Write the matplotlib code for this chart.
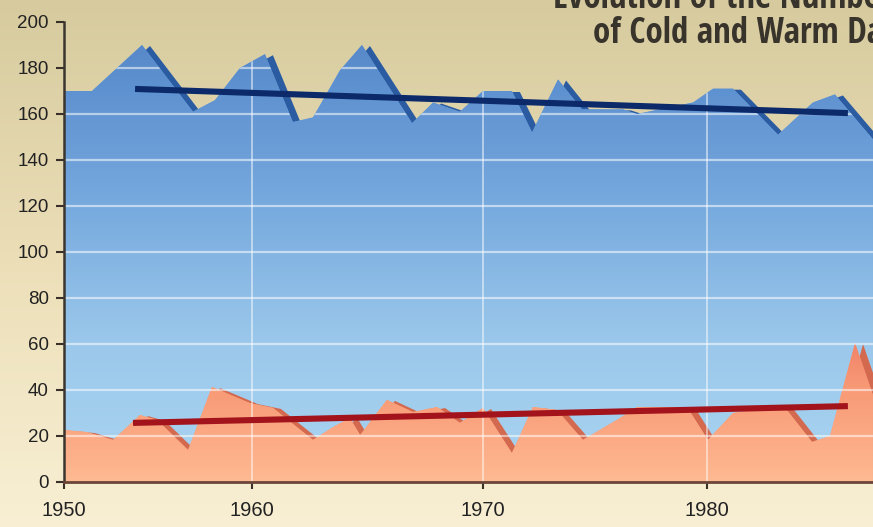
import numpy as np
import matplotlib
matplotlib.use("Agg")
import matplotlib.pyplot as plt
from matplotlib import transforms
from matplotlib import font_manager as fm
from matplotlib.colors import LinearSegmentedColormap

# ---------------- data ----------------
cold_years = [1950.00, 1951.49, 1954.15, 1956.86, 1958.03, 1959.36, 1960.56, 1961.77,
              1962.64, 1963.81, 1964.76, 1966.93, 1967.84, 1969.00, 1970.00, 1971.29,
              1972.19, 1973.35, 1974.42, 1976.25, 1976.88, 1979.38, 1980.27, 1981.16,
              1983.17, 1984.73, 1985.71, 1987.41]
cold_days = [170, 170, 190, 161, 166, 180, 186, 156.5,
             158.5, 179, 190, 156, 165, 161, 170, 170,
             152, 175, 162, 162, 160, 165, 171, 171,
             151, 165, 168.5, 149]

warm_years = [1950.00, 1951.22, 1952.61, 1954.04, 1954.95, 1956.60, 1957.87, 1959.89,
              1960.91, 1962.64, 1963.51, 1964.24, 1964.68, 1965.84, 1966.97, 1968.01,
              1969.00, 1970.00, 1971.29, 1972.23, 1973.30, 1974.46, 1975.98, 1976.88,
              1979.11, 1980.04, 1981.16, 1983.39, 1984.69, 1985.49, 1986.61, 1987.41]
warm_days = [22.6, 21.7, 18.3, 29.1, 27.0, 13.9, 41.3, 34.3,
             32.2, 18.3, 23.9, 27.8, 20.4, 35.7, 30.4, 32.6,
             25.7, 32.2, 12.6, 32.6, 31.3, 18.3, 27.0, 32.6,
             32.6, 18.3, 30.0, 33.5, 17.4, 20.0, 60.4, 37.8]

cold_trend_years = [1953.78, 1986.29]
cold_trend_days = [170.9, 160.4]
warm_trend_years = [1953.67, 1986.29]
warm_trend_days = [25.7, 33.0]

x_ticks = [1950, 1960, 1970, 1980]
y_ticks = list(range(0, 201, 20))
title_lines = ["Evolution of the Number", "of Cold and Warm Days"]

# ---------------- figure ----------------
W, H, DPI = 873, 527, 100
fig = plt.figure(figsize=(W / DPI, H / DPI), dpi=DPI)

# background gradient (beige)
bg = fig.add_axes([0, 0, 1, 1], zorder=-10)
bg.axis("off")
bg_cmap = LinearSegmentedColormap.from_list("bg", ["#f8efd4", "#ecdfb8", "#d6ca9e"])
bg.imshow(np.linspace(0, 1, 256).reshape(-1, 1), cmap=bg_cmap, aspect="auto",
          origin="lower", extent=[0, 1, 0, 1], interpolation="bicubic")

ax = fig.add_axes([64 / W, 1 - 482 / H, (W - 64) / W, (482 - 22) / H])
ax.patch.set_alpha(0)

# axis calibration of the reference (its decades are not equally spaced)
_knots_yr = np.array([1900., 1950., 1960., 1970., 1980., 2040.])
_knots_px = np.array([64 - 50 * 18.8, 64., 252., 483., 707., 707 + 60 * 22.4])


def fwd(x):
    return np.interp(np.asarray(x, dtype=float), _knots_yr, _knots_px)


def inv(p):
    return np.interp(np.asarray(p, dtype=float), _knots_px, _knots_yr)


ax.set_xscale("function", functions=(fwd, inv))

shadow_tr = ax.transData + transforms.ScaledTranslation(8 / DPI, -1 / DPI, fig.dpi_scale_trans)

grad = np.linspace(0, 1, 512).reshape(-1, 1)

# ---- cold days (blue) ----
ax.fill_between(cold_years, 0, cold_days, facecolor="#2b5ca2", edgecolor="none",
                transform=shadow_tr, zorder=1.0)
blue_poly = ax.fill_between(cold_years, 0, cold_days, facecolor="#6b9fd8",
                            edgecolor="none", zorder=1.05)
blue_path = blue_poly.get_paths()[0]
blue_cmap = LinearSegmentedColormap.from_list(
    "blue", [(0, "#aad4f1"), (0.3, "#9bc8eb"), (0.6, "#77aade"), (0.85, "#5f92d0"), (1, "#5485c7")])
im_b = ax.imshow(grad, cmap=blue_cmap, aspect="auto", origin="lower", extent=[0, 1, 0, 1],
                 transform=ax.transAxes, zorder=1.1, interpolation="bicubic")
im_b.set_clip_path(blue_path, ax.transData)

# ---- warm days (red) ----
ax.fill_between(warm_years, 0, warm_days, facecolor="#d36a50", edgecolor="none",
                transform=shadow_tr, zorder=1.2)
red_poly = ax.fill_between(warm_years, 0, warm_days, facecolor="#f89f7a",
                           edgecolor="none", zorder=1.25)
red_path = red_poly.get_paths()[0]
red_cmap = LinearSegmentedColormap.from_list(
    "red", [(0, "#feba92"), (0.1, "#fba984"), (0.2, "#f89a76"), (0.3, "#f0846a"), (1, "#e06050")])
im_r = ax.imshow(grad, cmap=red_cmap, aspect="auto", origin="lower", extent=[0, 1, 0, 1],
                 transform=ax.transAxes, zorder=1.3, interpolation="bicubic")
im_r.set_clip_path(red_path, ax.transData)

# ---- grid (visible only inside the areas) ----
for yv in y_ticks[1:]:
    gl = ax.axhline(yv, color="white", lw=1.6, alpha=0.55, zorder=1.4)
    gl.set_clip_path(blue_path, ax.transData)
for xv in x_ticks[1:]:
    gl = ax.axvline(xv, color="white", lw=1.4, alpha=0.5, zorder=1.4)
    gl.set_clip_path(blue_path, ax.transData)

# ---- trend lines ----
ax.plot(cold_trend_years, cold_trend_days, color="#0c2a6a", lw=4.4,
        solid_capstyle="butt", zorder=1.6)
ax.plot(warm_trend_years, warm_trend_days, color="#a3131b", lw=4.4,
        solid_capstyle="butt", zorder=1.6)

# ---- axes styling ----
ax.set_xlim(1950, inv(873.0).item())
ax.set_ylim(0, 200)
ax.set_xticks(x_ticks)
ax.set_yticks(y_ticks)
for s in ("top", "right"):
    ax.spines[s].set_visible(False)
ax.spines["left"].set_color("#3b3530")
ax.spines["left"].set_linewidth(1.8)
ax.spines["bottom"].set_color("#6a4538")
ax.spines["bottom"].set_linewidth(2.0)

tick_font = ["Liberation Sans", "DejaVu Sans"]
ax.tick_params(axis="y", direction="out", length=6, width=1.5, color="#3a302a",
               pad=5, labelsize=13.5, labelcolor="#222222")
ax.tick_params(axis="x", direction="out", length=5, width=1.5, color="#3a302a",
               pad=9, labelsize=14.5, labelcolor="#222222")
for lab in ax.get_xticklabels() + ax.get_yticklabels():
    lab.set_family(tick_font)


# ---- title (cropped at the right edge as in the reference) ----
def _w(f):
    w = f.weight
    if isinstance(w, str):
        w = fm.weight_dict.get(w, 400)
    return w


def _pick_title_font():
    best, best_rank = None, 99
    for f in fm.fontManager.ttflist:
        narrow = ("Narrow" in f.name or "Condensed" in f.name or
                  str(f.stretch) in ("condensed", "semi-condensed", "extra-condensed"))
        if not narrow or _w(f) < 600 or f.style != "normal":
            continue
        rank = 0 if "Liberation" in f.name else (1 if "Roboto" in f.name or "Open" in f.name else 2)
        if rank < best_rank:
            best, best_rank = f, rank
    if best is not None:
        return fm.FontProperties(fname=best.fname)
    return fm.FontProperties(family=["Liberation Sans", "DejaVu Sans"], weight="bold")


tprop = _pick_title_font()
tprop.set_size(26.5)
probe = fig.text(0, 0, "of Cold and Warm D", fontproperties=tprop)
renderer = fig.canvas.get_renderer()
wpx = probe.get_window_extent(renderer).width
probe.remove()
tsize = 26.5 * min(1.5, 274.0 / wpx)
tprop.set_size(tsize)

fig.text(553 / W, 1 - 8 / H, title_lines[0], ha="left", va="baseline",
         fontproperties=tprop, color="#38342c")
fig.text(593 / W, 1 - 43 / H, title_lines[1], ha="left", va="baseline",
         fontproperties=tprop, color="#38342c")

fig.savefig("out.png", dpi=DPI)
